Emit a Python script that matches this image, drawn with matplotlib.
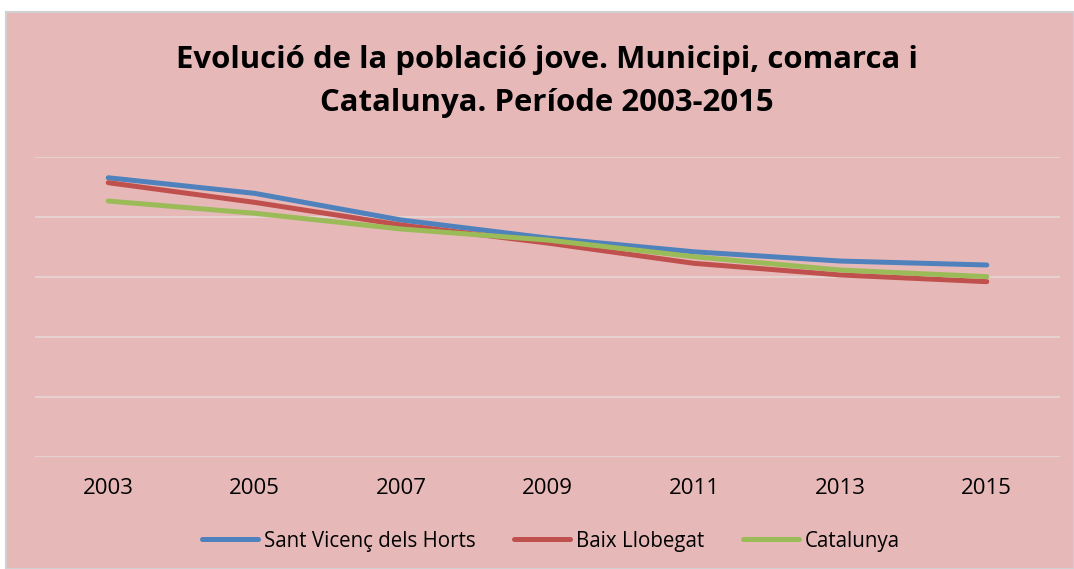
import numpy as np
import matplotlib
matplotlib.use("Agg")
import matplotlib.pyplot as plt
from matplotlib.patches import Rectangle

plt.rcParams['font.family'] = ['Open Sans', 'DejaVu Sans']

anys = ["2003", "2005", "2007", "2009", "2011", "2013", "2015"]
sant_vicenc = [23.27, 21.97, 19.75, 18.25, 17.10, 16.33, 16.00]
baix_llobegat = [22.86, 21.22, 19.33, 17.83, 16.14, 15.17, 14.61]
catalunya = [21.33, 20.31, 19.00, 18.08, 16.69, 15.58, 15.03]

rosa = "#E6B9B8"

fig = plt.figure(figsize=(10.74, 5.69), dpi=100)
fig.patch.set_facecolor("white")
# fons del grafic
fons = Rectangle((6 / 1074, 0), 1 - 6 / 1074, 1 - 12 / 569, transform=fig.transFigure,
                 facecolor=rosa, edgecolor="#D0D0D0", linewidth=1.5, zorder=-10)
fig.patches.append(fons)

ax = fig.add_axes([35 / 1074, 112 / 569, 1025 / 1074, 300 / 569])
ax.set_facecolor("none")
x = np.arange(len(anys))
ax.plot(x, sant_vicenc, color="#4F81BD", lw=3.6, solid_capstyle="round", label="Sant Vicenç dels Horts")
ax.plot(x, baix_llobegat, color="#C0504D", lw=3.6, solid_capstyle="round", label="Baix Llobegat")
ax.plot(x, catalunya, color="#9BBB59", lw=3.6, solid_capstyle="round", label="Catalunya")

ax.set_xlim(-0.5, len(anys) - 0.5)
ax.set_ylim(0, 25)
ax.set_yticks([0, 5, 10, 15, 20, 25])
ax.set_yticklabels([])
ax.tick_params(axis="y", length=0)
ax.grid(axis="y", color="#E4D6D6", lw=1.2)
ax.set_axisbelow(True)
ax.set_xticks(x)
ax.set_xticklabels(anys, fontsize=16)
ax.tick_params(axis="x", length=0, pad=15, colors="black")
for s in ax.spines.values():
    s.set_visible(False)

fig.text(547 / 1074, 1 - 60 / 569, "Evolució de la població jove. Municipi, comarca i",
         ha="center", va="center", fontsize=22.4, fontweight="bold")
fig.text(547 / 1074, 1 - 103 / 569, "Catalunya. Període 2003-2015",
         ha="center", va="center", fontsize=22.4, fontweight="bold")

ax.legend(loc="center", bbox_to_anchor=(551 / 1074, 1 - 541 / 569), bbox_transform=fig.transFigure,
          ncol=3, frameon=False, fontsize=14.8, handlelength=2.7, handletextpad=0.3, columnspacing=1.9)

fig.savefig("out.png", dpi=100)
